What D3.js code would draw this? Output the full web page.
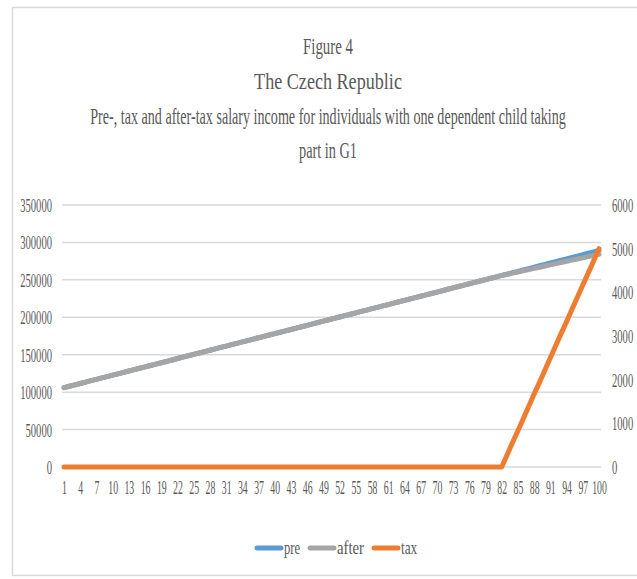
<!DOCTYPE html>
<html>
<head>
<meta charset="utf-8">
<script src="https://cdn.jsdelivr.net/npm/d3@7"></script>
<style>
  html, body { margin: 0; padding: 0; background: #fff; }
  svg text { font-family: "Liberation Serif", "DejaVu Serif", serif; fill: #595959; }
</style>
</head>
<body>
<svg id="chart" width="637" height="579"></svg>
<script>
// Percentile groups 1..100 (category axis)
const categories = d3.range(1, 101);

// Pre-tax salary income (left axis)
const preValues = [
  106000, 107900, 109700, 111600, 113400, 115300, 117100, 119000, 120800, 122700,
  124500, 126400, 128200, 130100, 131900, 133800, 135600, 137500, 139300, 141200,
  143000, 144900, 146700, 148600, 150400, 152300, 154100, 156000, 157800, 159700,
  161500, 163400, 165200, 167100, 168900, 170800, 172600, 174500, 176300, 178200,
  180000, 181900, 183700, 185600, 187400, 189300, 191100, 193000, 194800, 196700,
  198500, 200400, 202200, 204100, 205900, 207800, 209600, 211500, 213300, 215200,
  217000, 218900, 220700, 222600, 224400, 226300, 228100, 230000, 231800, 233700,
  235500, 237400, 239200, 241100, 242900, 244800, 246600, 248500, 250300, 252200,
  254000, 255900, 257700, 259600, 261400, 263300, 265100, 267000, 268800, 270700,
  272500, 274400, 276200, 278100, 279900, 281800, 283600, 285500, 287300, 289200
];

// After-tax salary income (left axis)
const afterValues = [
  106000, 107900, 109700, 111600, 113400, 115300, 117100, 119000, 120800, 122700,
  124500, 126400, 128200, 130100, 131900, 133800, 135600, 137500, 139300, 141200,
  143000, 144900, 146700, 148600, 150400, 152300, 154100, 156000, 157800, 159700,
  161500, 163400, 165200, 167100, 168900, 170800, 172600, 174500, 176300, 178200,
  180000, 181900, 183700, 185600, 187400, 189300, 191100, 193000, 194800, 196700,
  198500, 200400, 202200, 204100, 205900, 207800, 209600, 211500, 213300, 215200,
  217000, 218900, 220700, 222600, 224400, 226300, 228100, 230000, 231800, 233700,
  235500, 237400, 239200, 241100, 242900, 244800, 246600, 248500, 250300, 252200,
  254000, 255900, 257420, 259040, 260570, 262190, 263710, 265330, 266860, 268480,
  270000, 271620, 273140, 274770, 276290, 277910, 279430, 281060, 282580, 284200
];

// Tax (right axis)
const taxValues = [
  0, 0, 0, 0, 0, 0, 0, 0, 0, 0,
  0, 0, 0, 0, 0, 0, 0, 0, 0, 0,
  0, 0, 0, 0, 0, 0, 0, 0, 0, 0,
  0, 0, 0, 0, 0, 0, 0, 0, 0, 0,
  0, 0, 0, 0, 0, 0, 0, 0, 0, 0,
  0, 0, 0, 0, 0, 0, 0, 0, 0, 0,
  0, 0, 0, 0, 0, 0, 0, 0, 0, 0,
  0, 0, 0, 0, 0, 0, 0, 0, 0, 0,
  0, 0, 280, 560, 830, 1110, 1390, 1670, 1940, 2220,
  2500, 2780, 3060, 3330, 3610, 3890, 4170, 4440, 4720, 5000
];

const leftTicks = [0, 50000, 100000, 150000, 200000, 250000, 300000, 350000];
const rightTicks = [0, 1000, 2000, 3000, 4000, 5000, 6000];
const xTickLabels = categories.filter(c => (c - 1) % 3 === 0);

const titleLines = [
  "Figure 4",
  "The Czech Republic",
  "Pre-, tax and after-tax salary income for individuals with one dependent child taking",
  "part in G1"
];

const seriesNames = ["pre", "after", "tax"];
const seriesColors = { pre: "#5b9bd5", after: "#a5a5a5", tax: "#ed7d31" };

const svg = d3.select("#chart");

// Narrow a text horizontally so its drawn width equals `width`
// (emulates a condensed typeface); the text must sit at x = 0.
function condense(node, width) {
  const natural = node.getComputedTextLength();
  if (natural > 0) d3.select(node).attr("transform", `scale(${width / natural},1)`);
}
const perChar = (w) => function () { condense(this, this.textContent.length * w); };

// Chart frame
svg.append("rect")
  .attr("x", 12.5).attr("y", 7.5)
  .attr("width", 640).attr("height", 568)
  .attr("fill", "none").attr("stroke", "#d9d9d9").attr("stroke-width", 1.5);

// Title
const titleY = [54, 89, 124, 158];
const titleW = [50, 148, 476, 58];
titleLines.forEach((t, i) => {
  const g = svg.append("g").attr("transform", `translate(328,${titleY[i]})`);
  const txt = g.append("text")
    .attr("x", 0).attr("y", 0)
    .attr("text-anchor", "middle")
    .attr("font-size", 24)
    .text(t);
  condense(txt.node(), titleW[i]);
});

const plotTop = 205, plotBottom = 467, plotLeft = 62, plotRight = 601;

const x = d3.scalePoint().domain(categories).range([64, 599]);
const yL = d3.scaleLinear().domain([0, 350000]).range([plotBottom, plotTop]);
const yR = d3.scaleLinear().domain([0, 6000]).range([plotBottom, plotTop]);

// Horizontal gridlines
svg.append("g")
  .selectAll("line")
  .data(leftTicks)
  .join("line")
  .attr("x1", plotLeft).attr("x2", plotRight)
  .attr("y1", d => yL(d)).attr("y2", d => yL(d))
  .attr("stroke", "#d9d9d9").attr("stroke-width", 1.5);

const tickFont = 19;

// Left axis
const leftAxis = svg.append("g")
  .attr("transform", `translate(${plotLeft - 10},0)`)
  .call(d3.axisLeft(yL).tickValues(leftTicks).tickSize(0).tickPadding(0).tickFormat(d3.format("d")));
leftAxis.select(".domain").remove();
leftAxis.selectAll("text")
  .attr("font-size", tickFont).attr("font-family", "Liberation Serif").attr("fill", "#595959")
  .attr("dy", "0.34em")
  .each(perChar(5.3));

// Right axis
const rightAxis = svg.append("g")
  .attr("transform", `translate(${plotRight + 11},0)`)
  .call(d3.axisRight(yR).tickValues(rightTicks).tickSize(0).tickPadding(0).tickFormat(d3.format("d")));
rightAxis.select(".domain").remove();
rightAxis.selectAll("text")
  .attr("font-size", tickFont).attr("font-family", "Liberation Serif").attr("fill", "#595959")
  .attr("dy", "0.34em")
  .each(perChar(5.3));

// Bottom category axis
const bottomAxis = svg.append("g")
  .attr("transform", `translate(0,${plotBottom + 16})`)
  .call(d3.axisBottom(x).tickValues(xTickLabels).tickSize(0).tickPadding(0));
bottomAxis.select(".domain").remove();
bottomAxis.selectAll("text")
  .attr("font-size", tickFont).attr("font-family", "Liberation Serif").attr("fill", "#595959")
  .attr("dy", "0.6em")
  .each(perChar(4.9));

// Series lines
const lineL = d3.line().x((d, i) => x(categories[i])).y(d => yL(d));
const lineR = d3.line().x((d, i) => x(categories[i])).y(d => yR(d));

const drawSeries = (values, gen, color) =>
  svg.append("path")
    .datum(values)
    .attr("d", gen)
    .attr("fill", "none")
    .attr("stroke", color)
    .attr("stroke-width", 5)
    .attr("stroke-linejoin", "round")
    .attr("stroke-linecap", "round");

drawSeries(preValues, lineL, seriesColors.pre);
drawSeries(afterValues, lineL, seriesColors.after);
drawSeries(taxValues, lineR, seriesColors.tax);

// Legend
const legendItems = [
  { name: "pre", x: 257 },
  { name: "after", x: 310 },
  { name: "tax", x: 374 }
];
const legend = svg.append("g");
legendItems.forEach(item => {
  legend.append("line")
    .attr("x1", item.x).attr("x2", item.x + 24)
    .attr("y1", 548).attr("y2", 548)
    .attr("stroke", seriesColors[item.name])
    .attr("stroke-width", 5)
    .attr("stroke-linecap", "round");
  const g = legend.append("g").attr("transform", `translate(${item.x + 27},554)`);
  const txt = g.append("text").attr("x", 0).attr("y", 0)
    .attr("font-size", tickFont)
    .text(item.name);
  condense(txt.node(), item.name.length * 5.4);
});
</script>
</body>
</html>
